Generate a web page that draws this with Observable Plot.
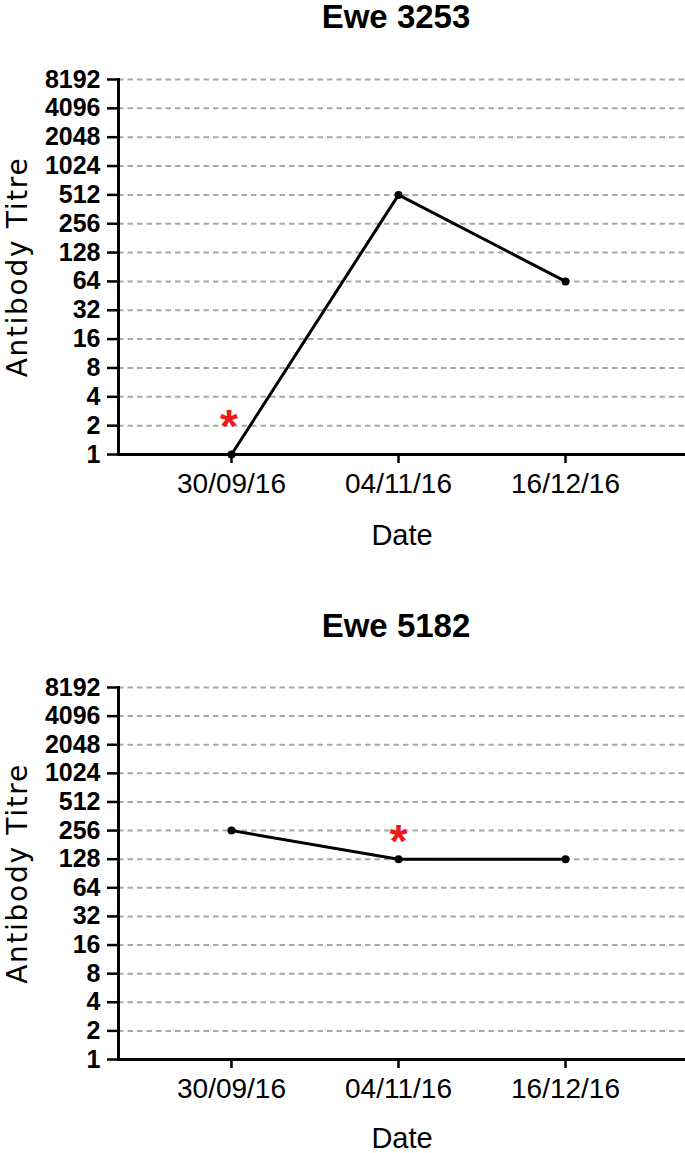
<!DOCTYPE html>
<html>
<head>
<meta charset="utf-8">
<script src="https://cdn.jsdelivr.net/npm/d3@7"></script>
<script src="https://cdn.jsdelivr.net/npm/@observablehq/plot@0.6"></script>
<style>
  html, body { margin: 0; padding: 0; background: #fff; }
  body { width: 685px; height: 1153px; position: relative; overflow: hidden; font-family: "Liberation Sans", Arial, sans-serif; }
  .title { position: absolute; left: 118px; width: 556px; text-align: center; font-weight: bold; font-size: 33px; line-height: 40px; height: 40px; color: #000; }
  .chart { position: absolute; left: 0; }
</style>
</head>
<body>
<div class="title" style="top:-3px">Ewe 3253</div>
<div class="chart" id="c1" style="top:40px"></div>
<div class="title" style="top:606px">Ewe 5182</div>
<div class="chart" id="c2" style="top:648px"></div>
<script>
const dates = ["30/09/16", "04/11/16", "16/12/16"];
const ewe3253 = [1, 512, 64];
const ewe5182 = [256, 128, 128];
const yTicks = [1, 2, 4, 8, 16, 32, 64, 128, 256, 512, 1024, 2048, 4096, 8192];
const yLabel = "Antibody Titre";
const xLabel = "Date";
// significance markers (where the red asterisk sits)
const sig3253 = [{date: "30/09/16", titre: 2.35}];
const sig5182 = [{date: "04/11/16", titre: 234}];

function chart(values, sig, {height, marginTop, marginBottom, starDx, dateDy}) {
  const data = dates.map((d, i) => ({date: d, titre: values[i]}));
  const svg = Plot.plot({
    width: 685,
    height,
    marginLeft: 118,
    marginRight: 0,
    marginTop,
    marginBottom,
    style: {fontFamily: "'Liberation Sans', Arial, sans-serif", color: "#000", background: "#fff"},
    x: {type: "point", domain: dates, padding: 0.6925, align: 0.487, axis: null},
    y: {type: "log", base: 2, domain: [1, 8192], axis: null},
    marks: [
      Plot.gridY(yTicks.slice(1), {stroke: "#a8a8a8", strokeOpacity: 1, strokeWidth: 2, strokeDasharray: "5.5,4"}),
      Plot.axisY({ticks: yTicks, tickFormat: d => String(d), tickSize: 11, tickPadding: 7, fontSize: 25, fontWeight: "bold", strokeWidth: 2.5, label: null}),
      Plot.axisX({tickSize: 9, tickPadding: 10, fontSize: 28, strokeWidth: 2.5, label: null}),
      Plot.frame({anchor: "left", strokeWidth: 3}),
      Plot.frame({anchor: "bottom", strokeWidth: 3}),
      Plot.line(data, {x: "date", y: "titre", stroke: "#000", strokeWidth: 3}),
      Plot.dot(data, {x: "date", y: "titre", r: 4, fill: "#000", stroke: null}),
      Plot.text(sig, {x: "date", y: "titre", text: () => "*", fill: "#f01818", fontSize: 46, fontWeight: "bold", dy: 8, dx: starDx}),
      Plot.text([xLabel], {frameAnchor: "bottom", text: d => d, lineAnchor: "middle", dy: dateDy, fontSize: 29}),
      Plot.text([yLabel], {frameAnchor: "left", text: d => d, textAnchor: "middle", lineAnchor: "middle", rotate: -90, dx: -100, fontSize: 28, fontFamily: "'DejaVu Sans', sans-serif"})
    ]
  });
  d3.select(svg).selectAll("text").filter(function() { return this.textContent === yLabel; }).attr("letter-spacing", "1.7px");
  return svg;
}

document.getElementById("c1").appendChild(chart(ewe3253, sig3253, {height: 520, marginTop: 39, marginBottom: 106, starDx: -2.5, dateDy: 81}));
document.getElementById("c2").appendChild(chart(ewe5182, sig5182, {height: 505, marginTop: 39, marginBottom: 94, starDx: 0, dateDy: 79}));
</script>
</body>
</html>
